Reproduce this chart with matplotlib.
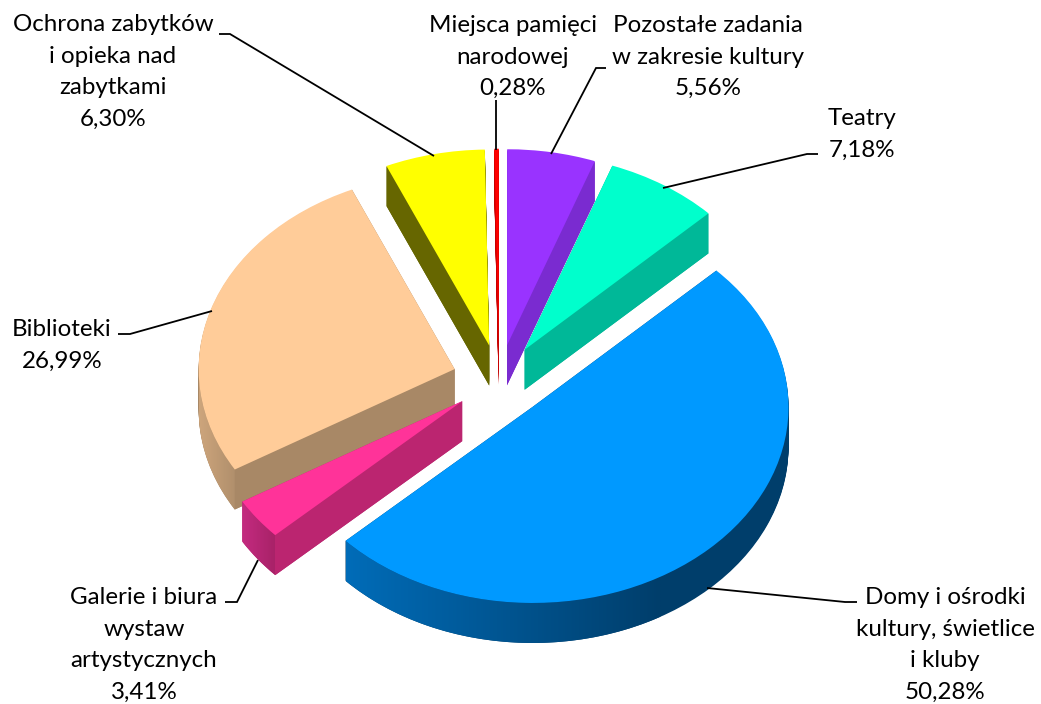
import numpy as np
import matplotlib
matplotlib.use('Agg')
import matplotlib.pyplot as plt
from matplotlib.patches import Wedge, Polygon
from matplotlib.colors import LinearSegmentedColormap

# kolejnosc: przeciwnie do zegara, od Teatrow
nazwy = ['Teatry', 'Pozostałe zadania\nw zakresie kultury', 'Miejsca pamięci\nnarodowej',
         'Ochrona zabytków\ni opieka nad\nzabytkami', 'Biblioteki',
         'Galerie i biura\nwystaw\nartystycznych', 'Domy i ośrodki\nkultury, świetlice\ni kluby']
udzialy = [7.18, 5.56, 0.28, 6.30, 26.99, 3.41, 50.28]
kolory = ['#00FFCC', '#9933FF', '#FF0000', '#FFFF00', '#FFCC99', '#FF3399', '#0099FF']
boki = ['#00B898', '#7A2BD0', '#C80000', '#666600', '#A88866', '#BB2570', '#003E6B']
wysuniecie = [0.184, 0.18, 0.18, 0.18, 0.182, 0.18, 0.19]
kolejnosc = [3, 2, 1, 0, 4, 5, 6]

W, H = 1041, 704
A, B = 256.0, 196.0   # polosie elipsy w px
CX, CY = 499.0, 380.0
GLEB = 40.0 / B

fig = plt.figure(figsize=(W / 100, H / 100), dpi=100)
ax = fig.add_axes([0, 0, 1, 1])
wedges, _ = ax.pie(udzialy, colors=kolory, startangle=44.1, explode=wysuniecie,
                   radius=1, wedgeprops={'linewidth': 0})
xlim = (-CX / A, (W - CX) / A)
ylim = (-(H - CY) / B, CY / B)


def rant(w, t0, t1, c0, c1):
    # zewnetrzna sciana z gradientem w poziomie
    t = np.radians(np.linspace(t0, t1, 80))
    x = w.center[0] + w.r * np.cos(t)
    y = w.center[1] + w.r * np.sin(t)
    pts = np.vstack([np.c_[x, y], np.c_[x, y - GLEB][::-1]])
    cmap = LinearSegmentedColormap.from_list('r', [c0, c1])
    z = w.get_zorder() - 0.5
    im = ax.imshow(np.linspace(0, 1, 256)[None, :], cmap=cmap, aspect='auto', zorder=z,
                   extent=(x.min(), x.max(), pts[:, 1].min(), pts[:, 1].max()))
    poly = Polygon(pts, transform=ax.transData, facecolor='none', edgecolor='none')
    im.set_clip_path(poly)


for poz, i in enumerate(kolejnosc):
    w = wedges[i]
    w.set_zorder(10 + poz * 2)
    cx, cy = w.center
    for d in np.linspace(GLEB, 0, 41)[:-1]:
        ax.add_patch(Wedge((cx, cy - d), w.r, w.theta1, w.theta2,
                           facecolor=boki[i], edgecolor='none', linewidth=0, zorder=9 + poz * 2))
    # sciany ciecia, zeby czubek nie byl poszarpany
    for th in (w.theta1, w.theta2):
        px_, py_ = cx + w.r * np.cos(np.radians(th)), cy + w.r * np.sin(np.radians(th))
        ax.add_patch(Polygon([(cx, cy), (px_, py_), (px_, py_ - GLEB), (cx, cy - GLEB)],
                             facecolor=boki[i], edgecolor='none', linewidth=0, zorder=9 + poz * 2))

rant(wedges[4], 180, wedges[4].theta2, '#CDA57C', '#B08F6C')
rant(wedges[5], wedges[5].theta1, wedges[5].theta2, '#C42B80', '#A82268')
rant(wedges[6], wedges[6].theta1 % 360, 300, '#006CB8', '#003E6B')

ax.set_aspect('auto')
ax.set_xlim(xlim)
ax.set_ylim(ylim)
ax.axis('off')


def px(x, y):
    return x / W, 1 - y / H


etykiety = [(862, 134), (708, 57), (513, 57), (113, 72), (62, 345), (144, 645), (945, 645)]
linie = [
    [(818, 154), (807, 154), (663, 188)],
    [(606, 68), (596, 68), (551, 154)],
    [(496, 100), (496, 150)],
    [(219, 34), (230, 34), (434, 156)],
    [(118, 334), (130, 334), (212, 311)],
    [(225, 602), (237, 602), (258, 560)],
    [(857, 602), (845, 602), (707, 588)],
]

for i in range(len(nazwy)):
    tekst = nazwy[i] + '\n' + f'{udzialy[i]:.2f}%'.replace('.', ',')
    x, y = px(*etykiety[i])
    ax.text(x, y, tekst, transform=ax.transAxes, ha='center', va='center', family='Lato',
            fontsize=17.4, color='black', linespacing=1.63, zorder=30)
    xs, ys = zip(*[px(*p) for p in linie[i]])
    ax.plot(xs, ys, transform=ax.transAxes, color='black', lw=1.3, zorder=29,
            solid_capstyle='butt', solid_joinstyle='miter')

fig.savefig('out.png', dpi=100, facecolor='white')
